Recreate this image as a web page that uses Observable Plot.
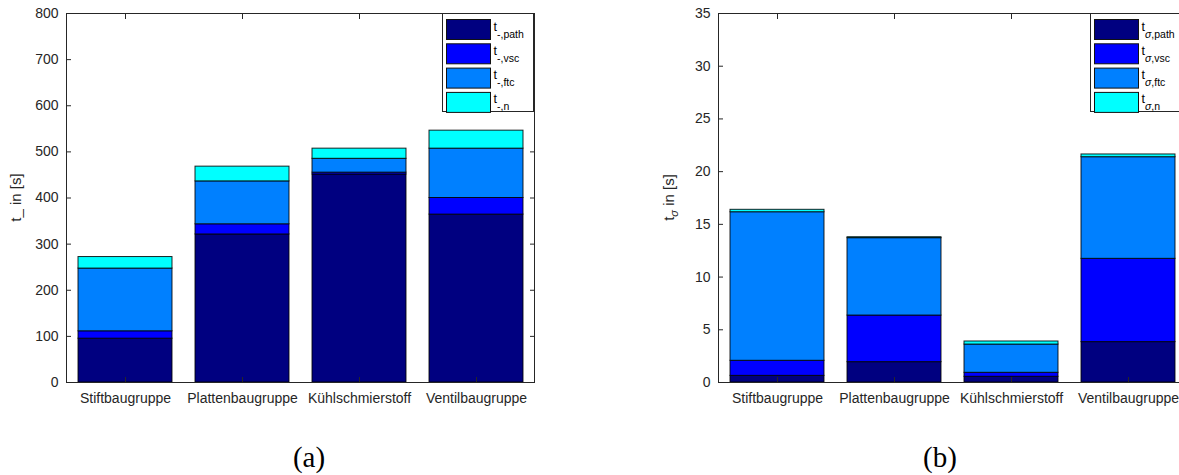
<!DOCTYPE html>
<html><head><meta charset="utf-8">
<script src="https://cdn.jsdelivr.net/npm/d3@7"></script>
<script src="https://cdn.jsdelivr.net/npm/@observablehq/plot@0.6"></script>
<style>
html,body{margin:0;padding:0;background:#fff;overflow:hidden}
#wrap{position:relative;width:1179px;height:475px;overflow:hidden;background:#fff}
.panel{position:absolute;top:0;width:600px;height:420px}
.panel svg{max-width:none !important}
.cap{position:absolute;font-family:"Liberation Serif","Times New Roman",serif;font-size:29px;line-height:31px;color:#000;transform:translateX(-50%);top:442px;white-space:nowrap}
</style></head><body>
<div id="wrap">
<div id="a" class="panel" style="left:0px"></div>
<div id="b" class="panel" style="left:640px"></div>
<div class="cap" style="left:309px">(a)</div>
<div class="cap" style="left:940px">(b)</div>
</div>
<script>
// ---- data ----
const categories = ["Stiftbaugruppe", "Plattenbaugruppe", "Kühlschmierstoff", "Ventilbaugruppe"];
const seriesKeys = ["path", "vsc", "ftc", "n"];
const seriesColors = ["#000080", "#0000ff", "#0080ff", "#00ffff"];

// panel (a): segment heights in s
const pathA = [95, 321, 451, 364];
const vscA  = [16, 22, 4, 36];
const ftcA  = [136, 93, 30, 107];
const nA    = [25, 32, 22, 39];

// panel (b): segment heights in s
const pathB = [0.63, 1.93, 0.54, 3.83];
const vscB  = [1.43, 4.42, 0.38, 7.90];
const ftcB  = [14.09, 7.34, 2.68, 9.64];
const nB    = [0.23, 0.09, 0.29, 0.26];

const yTicksA = [0, 100, 200, 300, 400, 500, 600, 700, 800];
const yTicksB = [0, 5, 10, 15, 20, 25, 30, 35];

const subA = "-";
const subB = "σ";

function buildTable(cols) {
  const rows = [];
  seriesKeys.forEach((s, si) => {
    categories.forEach((c, ci) => rows.push({cat: c, series: s, value: cols[si][ci]}));
  });
  return rows;
}

const FONT = "'Liberation Sans', Arial, Helvetica, sans-serif";
const INK = "#262626";

function makeChart(cfg) {
  const table = buildTable(cfg.cols);
  const yMax = cfg.yTicks[cfg.yTicks.length - 1];
  const svgNode = Plot.plot({
    width: cfg.width, height: 420,
    marginLeft: cfg.mL, marginRight: cfg.mR, marginTop: 13, marginBottom: 38,
    style: {fontFamily: FONT, fontSize: "14px", color: INK, background: "white", overflow: "visible", maxWidth: "none"},
    x: {domain: categories, paddingInner: 0.2, paddingOuter: 0.1, label: null},
    y: {domain: [0, yMax], label: null},
    color: {domain: seriesKeys, range: seriesColors},
    marks: [
      Plot.barY(table, {x: "cat", y: "value", fill: "series", stroke: "#000", strokeWidth: 1, strokeOpacity: 0.85}),
      Plot.frame({stroke: INK}),
      Plot.axisY({anchor: "left", ticks: cfg.yTicks, tickSize: -5, tickPadding: 13, label: null, stroke: INK}),
      Plot.axisY({anchor: "right", ticks: cfg.yTicks, tickSize: -5, tickFormat: () => "", label: null, stroke: INK}),
      Plot.axisX({anchor: "bottom", tickSize: -5, tickPadding: 16, label: null, stroke: INK}),
      Plot.axisX({anchor: "top", tickSize: -5, tickFormat: () => "", label: null, stroke: INK})
    ]
  });
  svgNode.style.maxWidth = "none";
  const svg = d3.select(svgNode);
  const color = svgNode.scale("color");

  // y label
  const yl = svg.append("text")
    .attr("transform", `translate(${cfg.ylabelX},${(13 + 382) / 2}) rotate(-90)`)
    .attr("text-anchor", "middle")
    .attr("fill", INK)
    .style("font-family", FONT).style("font-size", "15px");
  if (cfg.sub === "-") {
    yl.text("t_ in [s]");
  } else {
    yl.append("tspan").text("t");
    yl.append("tspan").attr("dy", 4).style("font-size", "11px").style("font-style", "italic").text(cfg.sub);
    yl.append("tspan").attr("dy", -4).text(" in [s]");
  }

  // legend
  const lg = svg.append("g");
  lg.append("rect").attr("x", cfg.legX).attr("y", 13.5).attr("width", cfg.legW).attr("height", 98)
    .attr("fill", "white").attr("stroke", INK).attr("stroke-width", 1);
  seriesKeys.forEach((s, i) => {
    const top = 19.5 + 24.3 * i;
    lg.append("rect").attr("x", cfg.legX + 4).attr("y", top).attr("width", 44).attr("height", 20)
      .attr("fill", color.apply(s)).attr("stroke", "#111").attr("stroke-width", 1);
    const t = lg.append("text").attr("x", cfg.legX + 51).attr("y", top + 11)
      .attr("text-anchor", "start")
      .attr("fill", "#000").style("font-family", FONT).style("font-size", "12.5px");
    t.append("tspan").text("t");
    const sb = t.append("tspan").attr("dy", 7).style("font-size", "10.5px");
    if (cfg.sub === "σ") {
      sb.append("tspan").style("font-style", "italic").text("σ");
      sb.append("tspan").text("," + s);
    } else {
      sb.text(cfg.sub + "," + s);
    }
  });
  return svgNode;
}

document.getElementById("a").appendChild(makeChart({
  cols: [pathA, vscA, ftcA, nA], yTicks: yTicksA, sub: subA,
  width: 545, mL: 66, mR: 11, legX: 442.5, legW: 91, ylabelX: 21
}));
document.getElementById("b").appendChild(makeChart({
  cols: [pathB, vscB, ftcB, nB], yTicks: yTicksB, sub: subB,
  width: 560, mL: 78, mR: 13, legX: 450.5, legW: 95, ylabelX: 34
}));
</script>
</body></html>
